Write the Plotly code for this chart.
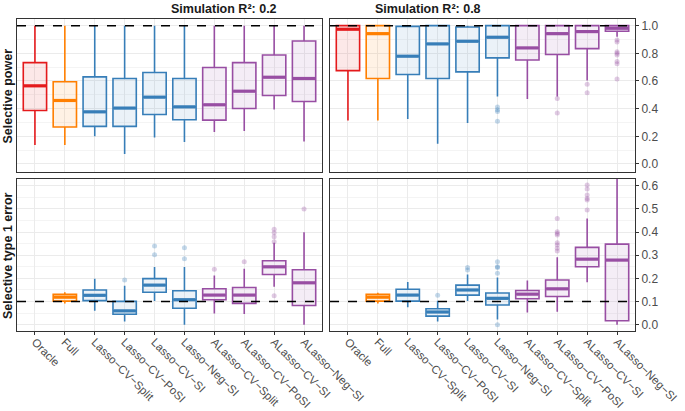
import plotly.graph_objects as go

categories = ["Oracle", "Full", "Lasso−CV−Split", "Lasso−CV−PoSI", "Lasso−CV−SI", "Lasso−Neg−SI",
              "ALasso−CV−Split", "ALasso−CV−PoSI", "ALasso−CV−SI", "ALasso−Neg−SI"]
method_colors = ["#E41A1C", "#FF7F00", "#377EB8", "#377EB8", "#377EB8", "#377EB8",
                 "#984EA3", "#984EA3", "#984EA3", "#984EA3"]
panel_titles = ["Simulation R²: 0.2", "Simulation R²: 0.8"]
row_titles = ["Selective power", "Selective type 1 error"]
power_ref = 1.0
error_ref = 0.1

# Selective power, R2 = 0.2
pow02_low = [0.137, 0.137, 0.200, 0.072, 0.192, 0.159, 0.231, 0.238, 0.394, 0.163]
pow02_q1 = [0.387, 0.267, 0.272, 0.272, 0.358, 0.320, 0.317, 0.401, 0.495, 0.452]
pow02_med = [0.565, 0.459, 0.377, 0.404, 0.483, 0.413, 0.428, 0.526, 0.627, 0.618]
pow02_q3 = [0.733, 0.594, 0.630, 0.618, 0.661, 0.618, 0.697, 0.733, 0.788, 0.889]
pow02_high = [1.0, 1.0, 1.0, 1.0, 1.0, 1.0, 1.0, 1.0, 1.0, 1.0]
pow02_out = [[], [], [], [], [], [], [], [], [], []]

# Selective power, R2 = 0.8
pow08_low = [0.315, 0.315, 0.325, 0.147, 0.296, 0.488, 0.469, 0.488, 0.603, 0.920]
pow08_q1 = [0.675, 0.618, 0.647, 0.618, 0.666, 0.767, 0.752, 0.791, 0.834, 0.959]
pow08_med = [0.974, 0.942, 0.779, 0.868, 0.887, 0.916, 0.839, 0.942, 0.957, 0.981]
pow08_q3 = [1.0, 1.0, 0.995, 1.0, 0.990, 1.0, 1.0, 1.0, 1.0, 1.0]
pow08_high = [1.0, 1.0, 1.0, 1.0, 1.0, 1.0, 1.0, 1.0, 1.0, 1.0]
pow08_out = [[], [], [], [], [], [0.411, 0.392, 0.380, 0.308], [], [0.474, 0.368],
             [0.577, 0.514], [0.897, 0.882, 0.812, 0.800, 0.788, 0.740, 0.724, 0.615]]

# Selective type 1 error, R2 = 0.2 (no Oracle)
err02_low = [None, 0.092, 0.060, 0.014, 0.102, 0.000, 0.049, 0.046, 0.164, 0.000]
err02_q1 = [None, 0.102, 0.104, 0.045, 0.140, 0.071, 0.108, 0.092, 0.217, 0.083]
err02_med = [None, 0.119, 0.127, 0.060, 0.171, 0.108, 0.128, 0.128, 0.250, 0.181]
err02_q3 = [None, 0.131, 0.150, 0.101, 0.199, 0.147, 0.155, 0.161, 0.276, 0.237]
err02_high = [None, 0.140, 0.199, 0.168, 0.249, 0.249, 0.213, 0.242, 0.354, 0.399]
err02_out = [[], [], [], [0.193], [0.302, 0.340], [0.285, 0.332], [0.240], [0.272],
             [0.412, 0.397, 0.380, 0.358, 0.125], [0.500]]

# Selective type 1 error, R2 = 0.8 (no Oracle)
err08_low = [None, 0.092, 0.075, 0.014, 0.102, 0.023, 0.053, 0.056, 0.183, 0.000]
err08_q1 = [None, 0.102, 0.102, 0.037, 0.128, 0.085, 0.112, 0.122, 0.250, 0.017]
err08_med = [None, 0.119, 0.128, 0.055, 0.150, 0.114, 0.132, 0.155, 0.283, 0.279]
err08_q3 = [None, 0.131, 0.153, 0.069, 0.171, 0.137, 0.148, 0.193, 0.334, 0.348]
err08_high = [None, 0.138, 0.184, 0.104, 0.217, 0.204, 0.191, 0.291, 0.459, 0.750]
err08_out = [[], [], [], [0.127], [0.247, 0.236], [0.000, 0.250, 0.247, 0.272, 0.222], [],
             [0.459, 0.401, 0.394, 0.387, 0.354, 0.344, 0.330, 0.318],
             [0.495, 0.538, 0.545, 0.560, 0.586, 0.603], []]

panels = [
    (1, pow02_low, pow02_q1, pow02_med, pow02_q3, pow02_high, pow02_out),
    (2, pow08_low, pow08_q1, pow08_med, pow08_q3, pow08_high, pow08_out),
    (3, err02_low, err02_q1, err02_med, err02_q3, err02_high, err02_out),
    (4, err08_low, err08_q1, err08_med, err08_q3, err08_high, err08_out),
]


def rgba(hexc, a):
    h = hexc.lstrip("#")
    return "rgba(%d,%d,%d,%s)" % (int(h[0:2], 16), int(h[2:4], 16), int(h[4:6], 16), a)


BOXW = 0.78
fig = go.Figure()
for idx, low, q1, med, q3, high, outs in panels:
    xa = "x" if idx == 1 else "x%d" % idx
    ya = "y" if idx == 1 else "y%d" % idx
    for i, cat in enumerate(categories):
        col = method_colors[i]
        if outs[i]:
            fig.add_trace(go.Scatter(
                x=[i] * len(outs[i]), y=outs[i], mode="markers", xaxis=xa, yaxis=ya,
                marker=dict(color=col, size=5, opacity=0.3, line=dict(width=0)),
                showlegend=False, hoverinfo="skip"))
        if q1[i] is None:
            continue
        fig.add_trace(go.Box(
            x=[i], q1=[q1[i]], median=[med[i]], q3=[q3[i]],
            lowerfence=[low[i]], upperfence=[high[i]],
            xaxis=xa, yaxis=ya, width=BOXW, whiskerwidth=0, boxpoints=False,
            fillcolor=rgba(col, 0.1), line=dict(color=col, width=1.6),
            showlegend=False, name=cat))
        fig.add_trace(go.Scatter(
            x=[i - BOXW / 2 + 0.02, i + BOXW / 2 - 0.02], y=[med[i], med[i]], mode="lines",
            xaxis=xa, yaxis=ya, line=dict(color=col, width=3.2),
            showlegend=False, hoverinfo="skip"))

L, R = 0.0, 0.4935
L2, R2 = 0.5065, 1.0
TOP = [0.5096, 1.0]
BOT = [0.0, 0.4872]

grid = "#EBEBEB"
mgrid = "#F4F4F4"
border = "#333333"
tickfont = dict(family="Liberation Sans, Arial, sans-serif", size=12, color="#4D4D4D")
xtickfont = dict(family="Liberation Sans, Arial, sans-serif", size=11.5, color="#4D4D4D")

xcommon = dict(range=[-0.6, 9.6], tickvals=list(range(len(categories))), ticktext=categories,
               showgrid=True, gridcolor=grid, gridwidth=1, zeroline=False, automargin=False,
               showline=True, mirror=True, linecolor=border, linewidth=1)
top_x = dict(xcommon, showticklabels=False, ticks="")
bot_x = dict(xcommon, showticklabels=True, ticks="outside", ticklen=3, tickcolor=border,
             tickangle=45, tickfont=xtickfont, ticklabelstandoff=-4)

ycommon = dict(showgrid=True, gridcolor=grid, gridwidth=1, zeroline=False, automargin=False,
               showline=True, mirror=True, linecolor=border, linewidth=1)
ytop = dict(ycommon, range=[-0.058, 1.048], tickvals=[0, 0.2, 0.4, 0.6, 0.8, 1.0],
            ticktext=["0.0", "0.2", "0.4", "0.6", "0.8", "1.0"],
            minor=dict(tickvals=[0.1, 0.3, 0.5, 0.7, 0.9], showgrid=True, gridcolor=mgrid, gridwidth=0.6))
ybot = dict(ycommon, range=[-0.027, 0.629], tickvals=[0, 0.1, 0.2, 0.3, 0.4, 0.5, 0.6],
            ticktext=["0.0", "0.1", "0.2", "0.3", "0.4", "0.5", "0.6"],
            minor=dict(tickvals=[0.05, 0.15, 0.25, 0.35, 0.45, 0.55], showgrid=True, gridcolor=mgrid, gridwidth=0.6))

fig.update_layout(
    width=685, height=411,
    margin=dict(l=17, r=50, t=19, b=80),
    plot_bgcolor="white", paper_bgcolor="white",
    font=dict(family="Liberation Sans, Arial, sans-serif", size=12, color="#4D4D4D"),
    showlegend=False,
    xaxis=dict(top_x, domain=[L, R], anchor="y"),
    xaxis2=dict(top_x, domain=[L2, R2], anchor="y2"),
    xaxis3=dict(bot_x, domain=[L, R], anchor="y3"),
    xaxis4=dict(bot_x, domain=[L2, R2], anchor="y4"),
    yaxis=dict(ytop, domain=TOP, anchor="x", showticklabels=False, ticks=""),
    yaxis2=dict(ytop, domain=TOP, anchor="x2", side="right", showticklabels=True,
                ticks="outside", ticklen=3, tickcolor=border, tickfont=tickfont),
    yaxis3=dict(ybot, domain=BOT, anchor="x3", showticklabels=False, ticks=""),
    yaxis4=dict(ybot, domain=BOT, anchor="x4", side="right", showticklabels=True,
                ticks="outside", ticklen=3, tickcolor=border, tickfont=tickfont),
)

for xr, yr, val in [("x", "y", power_ref), ("x2", "y2", power_ref),
                    ("x3", "y3", error_ref), ("x4", "y4", error_ref)]:
    fig.add_shape(type="line", xref=xr + " domain", yref=yr, x0=0, x1=1, y0=val, y1=val,
                  line=dict(color="black", width=1.5, dash="dash"), layer="above")

titlefont = dict(family="Liberation Sans, Arial, sans-serif", size=12.5, color="#1A1A1A")
for t, (a, b) in zip(panel_titles, [(L, R), (L2, R2)]):
    fig.add_annotation(text="<b>%s</b>" % t, x=(a + b) / 2, y=1, xref="paper", yref="paper",
                       yshift=10, showarrow=False, font=titlefont, yanchor="middle")
for t, (a, b) in zip(row_titles, [TOP, BOT]):
    fig.add_annotation(text="<b>%s</b>" % t, x=-0.0146, y=(a + b) / 2, xref="paper", yref="paper",
                       showarrow=False, font=titlefont, textangle=-90, xanchor="center", yanchor="middle")

fig.write_html("out.html", config={"displayModeBar": False},
               post_script="document.body.style.margin='0px';")
